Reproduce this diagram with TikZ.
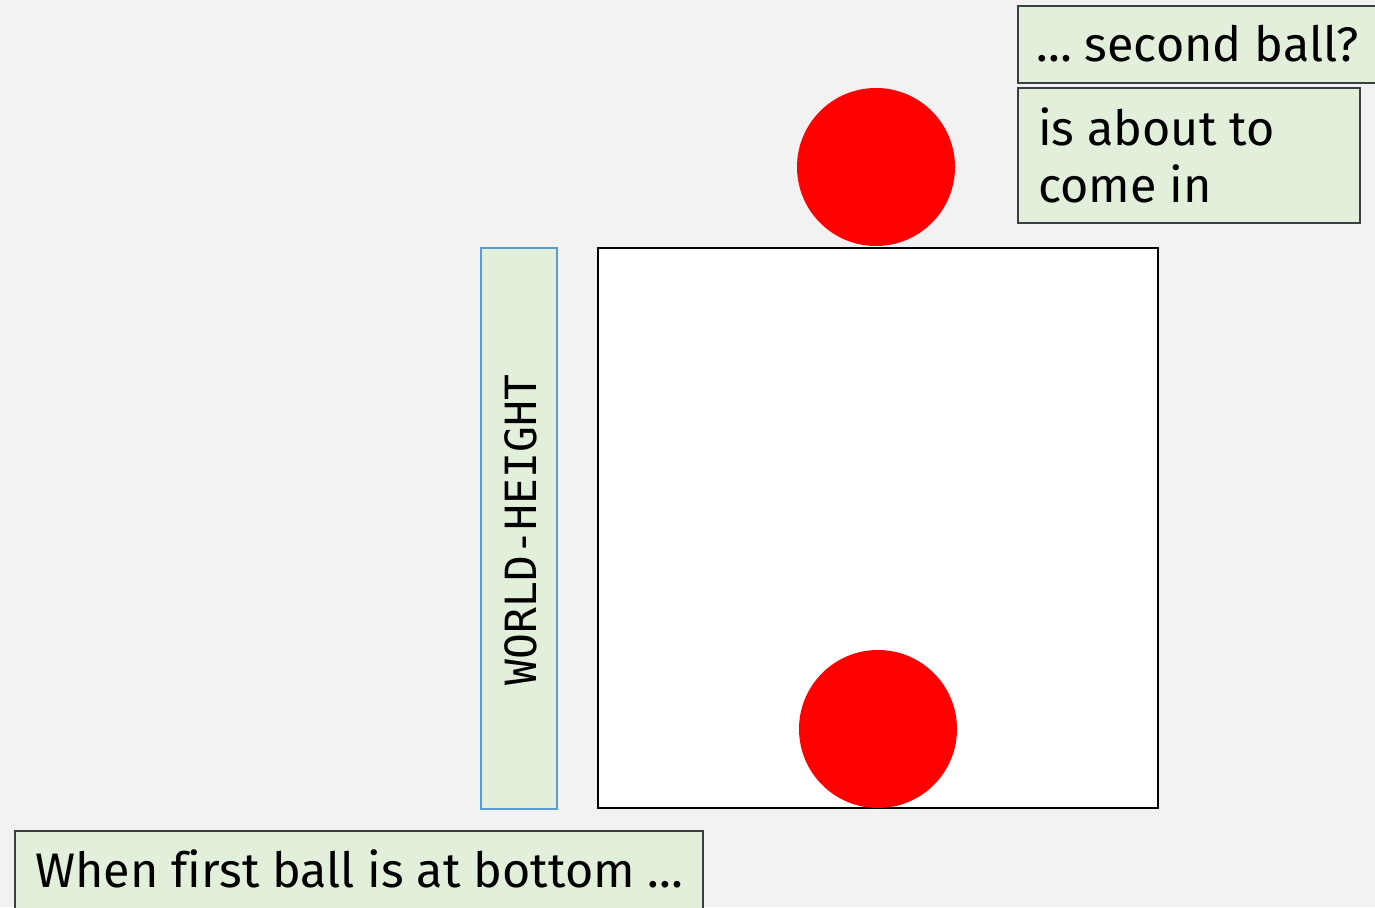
\documentclass[tikz,border=0pt]{standalone}
\usepackage{fontspec}
\setmainfont[Ligatures={NoCommon}]{Fira Sans}
\newfontfamily\monof{DejaVu Sans Mono}
\definecolor{bg}{HTML}{F2F2F2}
\definecolor{lgreen}{HTML}{E2EFDA}
\definecolor{dgray}{HTML}{3A3F44}
\definecolor{lblue}{HTML}{5B9BD5}
\begin{document}
\begin{tikzpicture}[x=1pt,y=-1pt,
  note/.style={fill=lgreen,draw=dgray,line width=1.5pt},
  label/.style={inner sep=0pt,anchor=base west,font=\fontsize{48.5}{57}\selectfont},
  ball/.style={circle,fill=red,draw=none,minimum size=158pt,inner sep=0pt}]
\fill[bg] (0,0) rectangle (1375,907);
\useasboundingbox (0,0) rectangle (1375,907);
\clip (0,0) rectangle (1375,907);
% notes
\draw[note] (1018,6) rectangle (1400,83);
\node[label] (t1) at (1036,62) {\ldots\ second ball?};
\draw[note] (1018,88) rectangle (1360,223);
\node[label] (t2) at (1038,145) {is about to};
\node[label] (t2b) at (1038,202) {come in};
% world box
\draw[line width=2.2pt,fill=white] (598,248) rectangle (1158,808);
\node[ball] (b1) at (876,167) {};
\node[ball] (b2) at (878,729) {};
% world height
\draw[fill=lgreen,draw=lblue,line width=1.2pt] (481,248) rectangle (557,809);
\node[rotate=90,inner sep=0pt,font=\monof\fontsize{43}{50}\selectfont] (wh) at (521,530) {WORLD-HEIGHT};
% bottom note
\draw[note] (15,831) rectangle (703,930);
\node[label] (t3) at (35,887) {When first ball is at bottom \ldots};
\end{tikzpicture}
\end{document}
